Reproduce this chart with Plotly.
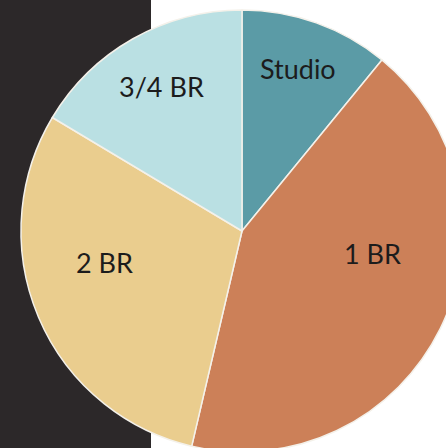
import plotly.graph_objects as go

# Unit mix by apartment type (share of units, %)
unit_types = ["Studio", "1 BR", "2 BR", "3/4 BR"]
unit_shares = [10.9, 42.7, 29.9, 16.4]
slice_colors = ["#5B9BA6", "#CC8058", "#EACD8E", "#BAE0E3"]

W, H = 470, 460

fig = go.Figure(
    go.Pie(
        labels=unit_types,
        values=unit_shares,
        sort=False,
        direction="clockwise",
        rotation=0,
        textinfo="none",
        hoverinfo="label+percent",
        marker=dict(colors=slice_colors, line=dict(color="#F4F1EA", width=1.5)),
        domain=dict(x=[21 / W, 463 / W], y=[1 - 452 / H, 1 - 10 / H]),
        showlegend=False,
    )
)

# Slice labels placed inside each wedge
label_pos = {
    "Studio": (298, 68),
    "1 BR": (372, 253),
    "2 BR": (104, 262),
    "3/4 BR": (161, 86),
}
for name in unit_types:
    px, py = label_pos[name]
    fig.add_annotation(
        x=px / W, y=1 - py / H, xref="paper", yref="paper",
        text=name, showarrow=False, xanchor="center", yanchor="middle",
        font=dict(family="Lato, sans-serif", size=27, color="#1C1C1C"),
    )

# Dark side panel behind the pie
fig.add_shape(
    type="rect", xref="paper", yref="paper",
    x0=0, x1=151 / W, y0=0, y1=1,
    fillcolor="#2C2829", line=dict(width=0), layer="below",
)

fig.update_layout(
    width=W, height=H,
    margin=dict(l=0, r=0, t=0, b=0),
    paper_bgcolor="white",
    plot_bgcolor="white",
)

fig.write_html(
    "out.html",
    config={"displayModeBar": False},
    post_script="document.body.style.margin='0';document.body.style.overflow='hidden';",
)
